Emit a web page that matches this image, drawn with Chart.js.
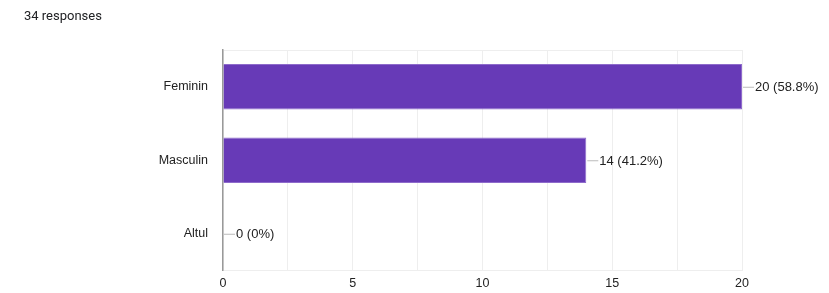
<!DOCTYPE html>
<html>
<head>
  <title>Responses</title>
  <script src="https://cdn.jsdelivr.net/npm/chart.js"></script>
  <style>
    html, body { margin: 0; padding: 0; background: #fff; }
    #wrap { position: relative; width: 829px; height: 293px; }
    #count { position: absolute; left: 24px; top: 8px; font: 13px Roboto, Arial, sans-serif; color: #202124; }
    canvas { position: absolute; left: 0; top: 0; }
  </style>
</head>
<body>
  <div id="wrap">
    <canvas id="chart" width="829" height="293"></canvas>
    <div id="count">34 responses</div>
  </div>

  <script>
    const categories = ['Feminin', 'Masculin', 'Altul'];
    const counts = [20, 14, 0];
    const xTicks = [0, 5, 10, 15, 20];

    const total = counts.reduce((a, b) => a + b, 0);
    const fmtPct = v => v === 0 ? '0%' : (v / total * 100).toFixed(1) + '%';

    // leader line + "n (pct)" label at the end of each bar
    const barLabels = {
      id: 'barLabels',
      afterDatasetsDraw(chart) {
        const ctx = chart.ctx;
        const meta = chart.getDatasetMeta(0);
        ctx.save();
        ctx.font = '13px Arial, "Liberation Sans", sans-serif';
        ctx.textBaseline = 'middle';
        meta.data.forEach((bar, i) => {
          const x = bar.x, y = bar.y;
          ctx.strokeStyle = '#bbb';
          ctx.lineWidth = 1;
          ctx.beginPath();
          ctx.moveTo(x + 1, y + 0.5);
          ctx.lineTo(x + 12, y + 0.5);
          ctx.stroke();
          ctx.fillStyle = '#222';
          ctx.fillText(counts[i] + ' (' + fmtPct(counts[i]) + ')', x + 13, y + 1);
        });
        ctx.restore();
      }
    };

    new Chart(document.getElementById('chart').getContext('2d'), {
      type: 'bar',
      data: {
        labels: categories,
        datasets: [{
          data: counts,
          backgroundColor: '#673ab7',
          borderColor: '#8e6bcb',
          borderWidth: 1,
          categoryPercentage: 1,
          barPercentage: 0.62
        }]
      },
      options: {
        indexAxis: 'y',
        responsive: false,
        animation: false,
        layout: { padding: { left: 0, top: 50, right: 87, bottom: 0 } },
        plugins: { legend: { display: false }, tooltip: { enabled: false } },
        scales: {
          x: {
            min: 0,
            max: 20,
            grid: { color: '#eeeeee', drawTicks: false },
            border: { color: '#eeeeee' },
            ticks: {
              stepSize: 2.5,
              padding: 6,
              color: '#222',
              font: { size: 12.5, family: 'Arial, "Liberation Sans", sans-serif' },
              callback: v => xTicks.includes(v) ? v : ''
            },
            afterFit: s => { s.height = 20; }
          },
          x2: {
            position: 'top',
            min: 0,
            max: 20,
            grid: { display: false },
            border: { color: '#eeeeee' },
            ticks: { display: false },
            afterFit: s => { s.height = 0; }
          },
          y: {
            grid: { display: false, drawTicks: false },
            border: { color: '#999', width: 1.5 },
            ticks: {
              padding: 15,
              color: '#222',
              font: { size: 12.5, family: 'Arial, "Liberation Sans", sans-serif' }
            },
            afterFit: s => { s.width = 223; }
          }
        }
      },
      plugins: [barLabels]
    });
  </script>
</body>
</html>
